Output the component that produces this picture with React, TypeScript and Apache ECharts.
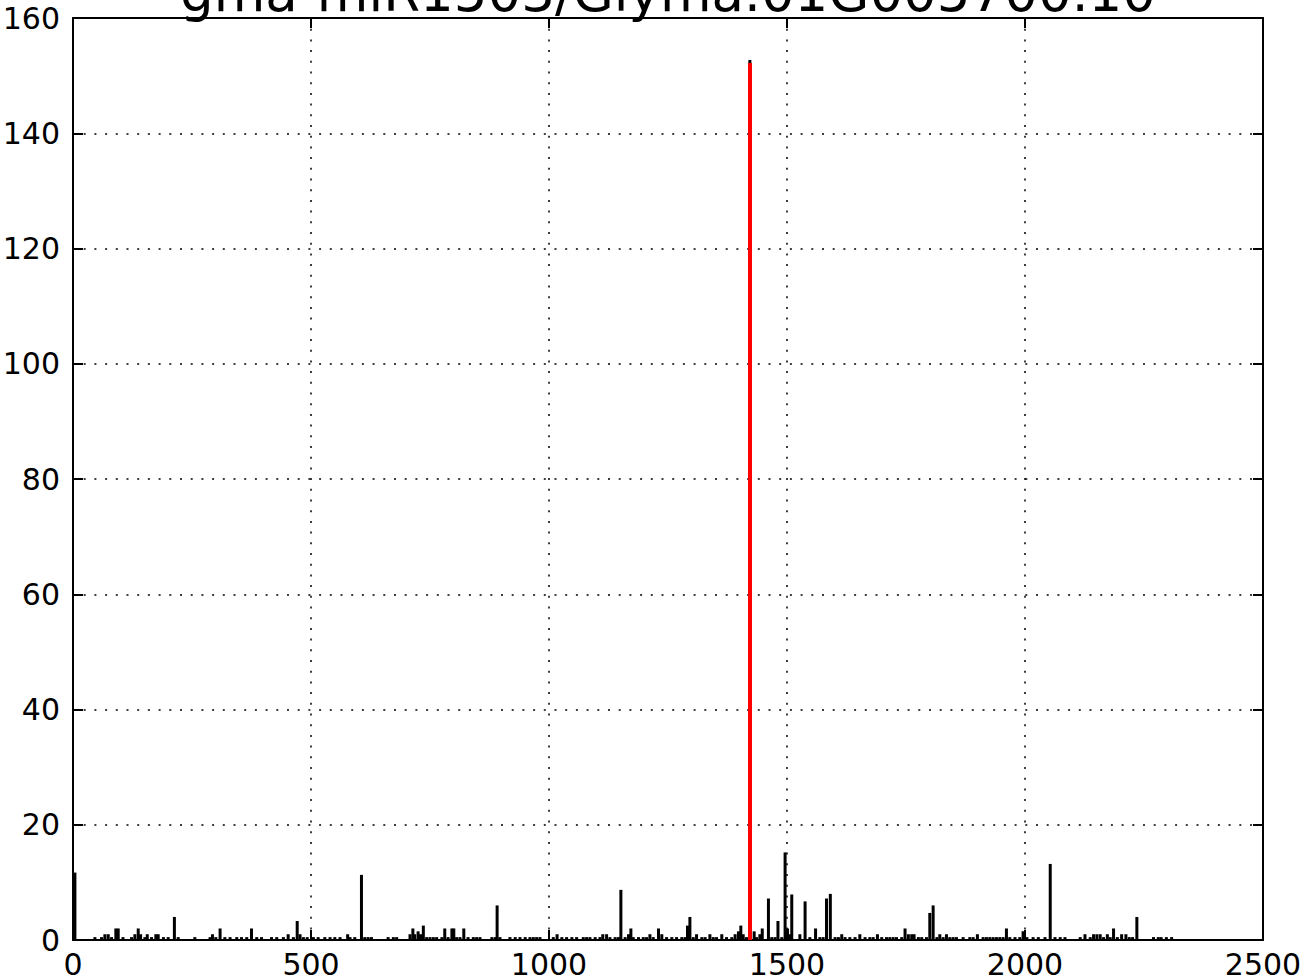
import React, { useEffect, useRef } from "react";
import * as echarts from "echarts";

const titleText = "gma-miR1503/Glyma.01G005700.10";

const xTicks = { min: 0, max: 2500, interval: 500 };
const yTicks = { min: 0, max: 160, interval: 20 };

const positions = [
  4, 46, 60, 67, 74, 81, 90, 95, 105, 123, 130, 137, 142, 151, 156, 165, 174, 179, 190, 200, 213, 221, 256, 288, 293, 300, 309, 319, 330, 344, 354, 365, 375, 386, 396, 417, 428, 442, 452, 463, 471, 477, 484, 492,
  505, 515, 529, 540, 550, 561, 577, 582, 592, 606, 613, 620, 627, 662, 673, 680, 708, 714, 718, 725, 730, 736, 743, 750, 757, 764, 775, 781, 788, 796, 800, 806, 813, 821, 830, 841, 848, 855, 880, 887, 891, 897, 918, 929, 939, 950, 960, 967, 974, 981,
  1009, 1017, 1027, 1037, 1048, 1058, 1072, 1079, 1086, 1097, 1107, 1113, 1121, 1128, 1139, 1146, 1151, 1160, 1167, 1172, 1177, 1188, 1198, 1205, 1212, 1219, 1230, 1237, 1247, 1258, 1268, 1279, 1286, 1291, 1296, 1303, 1310, 1321, 1328, 1338, 1345, 1352, 1363, 1373, 1384, 1391, 1398, 1403, 1408, 1415, 1422, 1431, 1436, 1443, 1448, 1461, 1468, 1475, 1481, 1489, 1496, 1501, 1505, 1510, 1527, 1538, 1548, 1560, 1569, 1576, 1583, 1591, 1601, 1608, 1615, 1622, 1632, 1643, 1653, 1664, 1674, 1681, 1690, 1699, 1709, 1716, 1723, 1730, 1741, 1748, 1755, 1762, 1767, 1776, 1783, 1793, 1800, 1807, 1815, 1821, 1828, 1835, 1842, 1849, 1856, 1870, 1884, 1891, 1900, 1912, 1919, 1926, 1933, 1940, 1947, 1954, 1961, 1968, 1979, 1989, 1996, 2004, 2017, 2028, 2042, 2053, 2063, 2074, 2084, 2116, 2126, 2137, 2144, 2151, 2158, 2165, 2173, 2179, 2186, 2194, 2203, 2212, 2219, 2226, 2235, 2270, 2280, 2286, 2297, 2308,
];

const counts = [
  11.7, 0.5, 0.5, 1, 1, 0.5, 2, 2, 0.5, 0.5, 1, 2, 1, 0.5, 1, 0.5, 1, 1, 0.5, 0.5, 4, 0.5, 0.5, 0.5, 1, 0.5, 2, 0.5, 0.5, 0.5, 0.5, 0.5, 2, 0.5, 0.5, 0.5, 0.5, 0.5, 1, 0.5, 3.3, 1, 0.5, 0.5,
  0.5, 0.5, 0.5, 0.5, 0.5, 0.5, 1, 0.5, 0.5, 11.3, 0.5, 0.5, 0.5, 0.5, 0.5, 0.5, 1, 2, 1, 1.5, 1, 2.5, 0.5, 0.5, 0.5, 0.5, 0.5, 2, 0.5, 2, 2, 0.5, 0.5, 2, 0.5, 0.5, 0.5, 0.5, 0.5, 0.5, 6, 0.5, 0.5, 0.5, 0.5, 0.5, 0.5, 0.5, 0.5, 0.5,
  0.5, 1, 0.5, 0.5, 0.5, 0.5, 0.5, 0.5, 0.5, 0.5, 0.5, 1, 1, 0.5, 0.5, 0.5, 8.7, 0.5, 1, 2, 0.5, 0.5, 0.5, 0.5, 1, 0.5, 2, 1, 0.5, 0.5, 0.5, 0.5, 0.5, 2.5, 4, 0.5, 1, 0.5, 0.5, 1, 0.5, 0.5, 1, 0.5, 0.5, 1, 1.5, 2.5, 1, 0.5, 152.7, 1.5, 0.5, 1, 2, 7.2, 0.5, 0.5, 3.3, 0.5, 15.2, 2, 1, 7.9, 1, 6.7, 0.5, 2, 0.5, 0.5, 7.2, 8, 0.5, 0.5, 1, 0.5, 0.5, 0.5, 1, 0.5, 0.5, 0.5, 1, 0.5, 0.5, 0.5, 0.5, 0.5, 0.5, 2, 1, 1, 1, 0.5, 0.5, 0.5, 4.7, 6, 0.5, 1, 0.5, 1, 0.5, 0.5, 0.5, 0.5, 0.5, 0.5, 1, 0.5, 0.5, 0.5, 0.5, 0.5, 0.5, 0.5, 2, 0.5, 0.5, 0.5, 1.5, 0.5, 0.5, 0.5, 0.5, 13.2, 0.5, 0.5, 0.5, 0.5, 1, 0.5, 1, 1, 1, 0.5, 1, 0.5, 2, 0.5, 1, 1, 0.5, 0.5, 4, 0.5, 0.5, 0.5, 0.5, 0.5,
];

const cleavagePosition = 1422;
const cleavageValue = 152.2;

const FONT = "DejaVu Sans";

export default function App() {
  const ref = useRef<HTMLDivElement>(null);

  useEffect(() => {
    document.body.style.margin = "0";
    if (!ref.current) return;
    const chart = echarts.init(ref.current, null, { renderer: "svg" });

    const data = positions.map((p, i) => [p, counts[i]]);

    const gridLine = {
      show: true,
      lineStyle: { color: "#000", width: 1.5, type: [2, 8.7] as any },
    };
    const axisLineStyle = { show: true, onZero: false, lineStyle: { color: "#000", width: 2 } };
    const tickStyle = { show: true, inside: true, length: 10, lineStyle: { color: "#000", width: 2 } };
    const labelStyle = {
      color: "#000",
      fontFamily: FONT,
      fontSize: 30,
      formatter: (v: number) => String(v),
    };

    chart.setOption({
      animation: false,
      backgroundColor: "#fff",
      grid: {
        left: 73,
        right: 39,
        top: 18,
        bottom: 40,
        containLabel: false,
        outerBoundsMode: "none",
      },
      graphic: [
        {
          type: "text",
          x: 668,
          y: -8,
          z: 100,
          style: {
            text: titleText,
            fill: "#000",
            fontFamily: FONT,
            fontSize: 53,
            align: "center",
            verticalAlign: "middle",
          },
        },
      ],
      xAxis: [
        {
          type: "value",
          position: "bottom",
          ...xTicks,
          axisLine: axisLineStyle,
          axisTick: tickStyle,
          axisLabel: { ...labelStyle, margin: 9 },
          splitLine: gridLine,
        },
        {
          type: "value",
          position: "top",
          ...xTicks,
          axisLine: axisLineStyle,
          axisTick: tickStyle,
          axisLabel: { show: false },
          splitLine: { show: false },
        },
      ],
      yAxis: [
        {
          type: "value",
          position: "left",
          ...yTicks,
          axisLine: axisLineStyle,
          axisTick: tickStyle,
          axisLabel: { ...labelStyle, margin: 13 },
          splitLine: gridLine,
        },
        {
          type: "value",
          position: "right",
          ...yTicks,
          axisLine: axisLineStyle,
          axisTick: tickStyle,
          axisLabel: { show: false },
          splitLine: { show: false },
        },
      ],
      series: [
        {
          type: "bar",
          xAxisIndex: 0,
          yAxisIndex: 0,
          data,
          barWidth: 3,
          itemStyle: { color: "#000" },
          silent: true,
          markLine: {
            silent: true,
            symbol: ["none", "none"],
            label: { show: false },
            lineStyle: { color: "#ff0000", width: 4, type: "solid" },
            data: [
              [
                { coord: [cleavagePosition, 0] },
                { coord: [cleavagePosition, cleavageValue] },
              ],
            ],
          },
        },
      ],
    });

    return () => chart.dispose();
  }, []);

  return <div ref={ref} style={{ width: 1302, height: 980 }} />;
}
